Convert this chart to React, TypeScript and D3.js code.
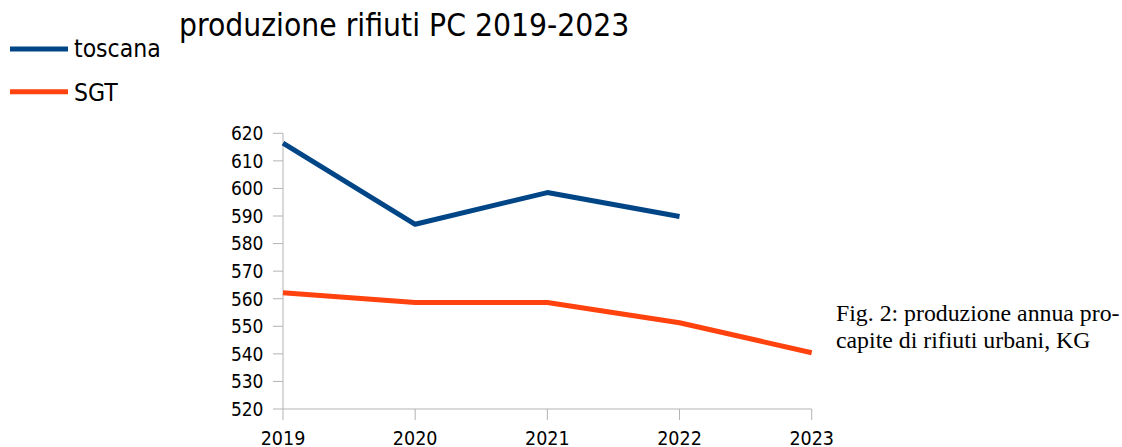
import React from "react";
import * as d3 from "d3";

const years = ["2019", "2020", "2021", "2022", "2023"];
const toscana: (number | null)[] = [616.4, 587.0, 598.5, 589.8, null];
const sgt: (number | null)[] = [562.2, 558.6, 558.6, 551.3, 540.4];
const yTicks = [520, 530, 540, 550, 560, 570, 580, 590, 600, 610, 620];
const seriesNames = ["toscana", "SGT"];
const seriesColors = ["#004586", "#ff420e"];
const title = "produzione rifiuti PC 2019-2023";
const captionLines = ["Fig. 2: produzione annua pro-", "capite di rifiuti urbani, KG"];

const W = 1122;
const H = 447;
const left = 283;
const right = 811.7;
const top = 133.3;
const bottom = 409;

export default function App() {
  const x = d3.scalePoint<string>().domain(years).range([left, right]);
  const y = d3.scaleLinear().domain([520, 620]).range([bottom, top]);
  const line = d3
    .line<number | null>()
    .defined((d) => d !== null)
    .x((_, i) => x(years[i]) as number)
    .y((d) => y(d as number));
  const data = [toscana, sgt];
  const axisColor = "#b3b3b3";
  const tickFont = "'DejaVu Sans Condensed', 'DejaVu Sans', sans-serif";
  return (
    <svg
      width={W}
      height={H}
      style={{ position: "absolute", left: 0, top: 0, background: "#fff" }}
    >
      <text x={179} y={35.5} fontFamily={tickFont} fontSize={31.5} fill="#000">
        {title}
      </text>
      {seriesNames.map((n, i) => (
        <g key={n}>
          <line
            x1={10}
            x2={68}
            y1={i === 0 ? 49 : 91.7}
            y2={i === 0 ? 49 : 91.7}
            stroke={seriesColors[i]}
            strokeWidth={5}
          />
          <text
            x={74}
            y={i === 0 ? 56.7 : 100.7}
            fontFamily={tickFont}
            fontSize={24.5}
            fill="#000"
          >
            {n}
          </text>
        </g>
      ))}
      {/* y axis */}
      <line x1={left} x2={left} y1={top} y2={bottom} stroke={axisColor} strokeWidth={1} />
      {yTicks.map((t) => (
        <g key={t}>
          <line x1={left - 10} x2={left} y1={y(t)} y2={y(t)} stroke={axisColor} strokeWidth={1} />
          <text
            x={left - 19.5}
            y={y(t)}
            dy="0.36em"
            textAnchor="end"
            fontFamily={tickFont}
            fontSize={19}
            fill="#000"
          >
            {t}
          </text>
        </g>
      ))}
      {/* x axis */}
      <line x1={left} x2={right} y1={bottom} y2={bottom} stroke={axisColor} strokeWidth={1} />
      {years.map((yr) => (
        <g key={yr}>
          <line
            x1={x(yr)}
            x2={x(yr)}
            y1={bottom}
            y2={bottom + 11}
            stroke={axisColor}
            strokeWidth={1}
          />
          <text
            x={x(yr)}
            y={444.5}
            textAnchor="middle"
            fontFamily={tickFont}
            fontSize={19.5}
            fill="#000"
          >
            {yr}
          </text>
        </g>
      ))}
      {data.map((d, i) => (
        <path
          key={i}
          d={line(d) || ""}
          fill="none"
          stroke={seriesColors[i]}
          strokeWidth={5}
          strokeLinejoin="round"
        />
      ))}
      {captionLines.map((l, i) => (
        <text
          key={i}
          x={836}
          y={321 + i * 26.5}
          fontFamily="'Liberation Serif', 'Times New Roman', serif"
          fontSize={23.8}
          fill="#000"
        >
          {l}
        </text>
      ))}
    </svg>
  );
}
